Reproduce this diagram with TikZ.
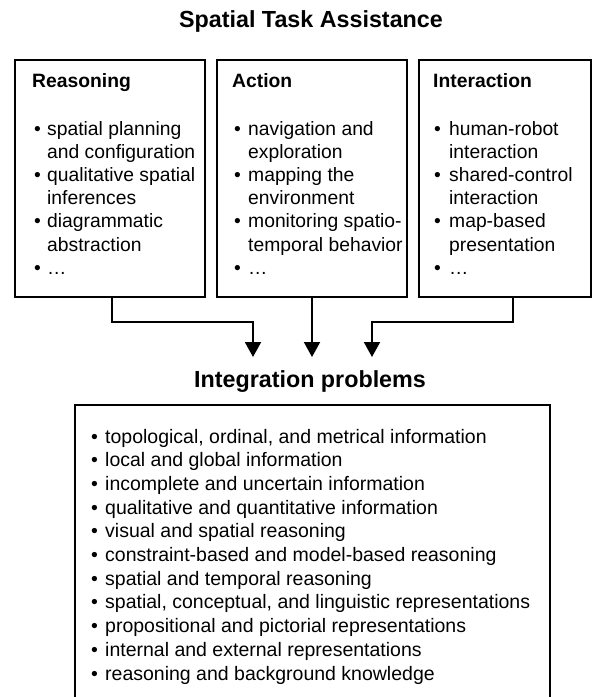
\documentclass[tikz,border=0pt]{standalone}
\usepackage{fontspec}
\setmainfont{Liberation Sans}
\usetikzlibrary{arrows.meta,calc}
\begin{document}
\begin{tikzpicture}[x=1pt,y=-1pt,
  box/.style={draw,line width=2pt,anchor=north west,inner sep=0pt,outer sep=0pt},
  big/.style={font=\fontsize{23.3}{28}\selectfont\bfseries, inner sep=0pt, anchor=base},
  head/.style={font=\fontsize{19.3}{23.3}\selectfont\bfseries, inner sep=0pt, anchor=base west},
  list/.style={font=\fontsize{19.3}{23.2}\selectfont, inner sep=0pt, anchor=base west},
  blist/.style={font=\fontsize{19.5}{23.7}\selectfont, inner sep=0pt, anchor=base west},
  conn/.style={line width=2pt},
  arr/.style={conn,-{Triangle[width=16pt,length=15pt]}}]
\useasboundingbox (0,0) rectangle (608,697);
\clip (0,0) rectangle (608,697);

\node[big] (title) at (311,27) {Spatial Task Assistance};

\node[box,minimum width=190pt,minimum height=237pt] (reas) at (15,60) {};
\node[box,minimum width=190pt,minimum height=237pt] (act) at (217,60) {};
\node[box,minimum width=172pt,minimum height=237pt] (inter) at (419,60) {};

\node[head] (rh) at (32,87) {Reasoning};
\node[head] (ah) at (232,87) {Action};
\node[head] (ih) at (433,87) {Interaction};

\node[list] (rl) at (34,135) {\begin{tabular}[t]{@{}p{13pt}@{}l@{}}
\textbullet & spatial planning\\
 & and configuration\\
\textbullet & qualitative spatial\\
 & inferences\\
\textbullet & diagrammatic\\
 & abstraction\\
\textbullet & …
\end{tabular}};
\node[list] (al) at (234,135) {\begin{tabular}[t]{@{}p{14pt}@{}l@{}}
\textbullet & navigation and\\
 & exploration\\
\textbullet & mapping the\\
 & environment\\
\textbullet & monitoring spatio-\\
 & temporal behavior\\
\textbullet & …
\end{tabular}};
\node[list] (il) at (434,135) {\begin{tabular}[t]{@{}p{15pt}@{}l@{}}
\textbullet & human-robot\\
 & interaction\\
\textbullet & shared-control\\
 & interaction\\
\textbullet & map-based\\
 & presentation\\
\textbullet & …
\end{tabular}};

\coordinate (t1) at (253,357);
\coordinate (t2) at (312,357);
\coordinate (t3) at (372,357);
\draw[arr] ($(reas.south)+(2,0)$) -- ++(0,25) -| (t1);
\draw[arr] (act.south) -- (t2);
\draw[arr] ($(inter.south)+(8,0)$) -- ++(0,25) -| (t3);

\node[big] (integ) at (310,387) {Integration problems};

\node[box,minimum width=475pt,minimum height=320pt] (prob) at (75,405) {};
\node[blist] (pl) at (91,443) {\begin{tabular}[t]{@{}p{14pt}@{}l@{}}
\textbullet & topological, ordinal, and metrical information\\
\textbullet & local and global information\\
\textbullet & incomplete and uncertain information\\
\textbullet & qualitative and quantitative information\\
\textbullet & visual and spatial reasoning\\
\textbullet & constraint-based and model-based reasoning\\
\textbullet & spatial and temporal reasoning\\
\textbullet & spatial, conceptual, and linguistic representations\\
\textbullet & propositional and pictorial representations\\
\textbullet & internal and external representations\\
\textbullet & reasoning and background knowledge
\end{tabular}};
\end{tikzpicture}
\end{document}
